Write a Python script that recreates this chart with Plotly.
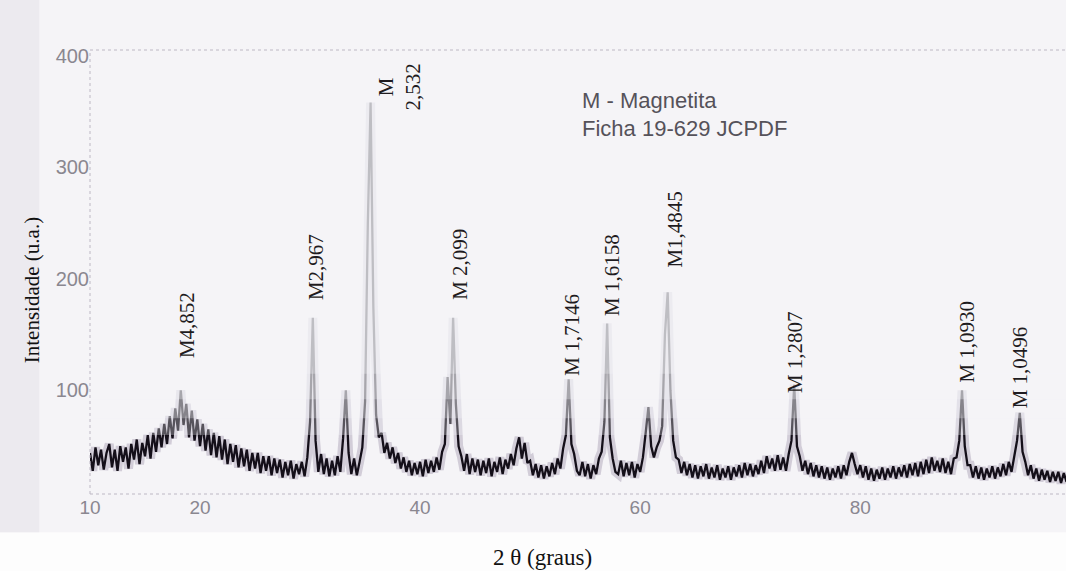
import plotly.graph_objects as go

# Difratograma de raios X (Cu K-alfa), passo de 0,25 grau a partir de 10 graus
start_2theta = 10.0
step_2theta = 0.25

intensity = [
    44, 28, 49, 33,   47, 29, 44, 52,   31, 47, 28, 50,   36, 49, 30, 52,   # 10-13
    38, 56, 34, 53,   41, 60, 39, 62,   45, 66, 49, 70,   52, 77, 57, 84,   # 14-17
    64, 100, 69, 88,  58, 82, 55, 74,   50, 70, 46, 65,   42, 62, 40, 59,   # 18-21
    38, 56, 34, 52,   36, 51, 31, 48,   32, 47, 28, 44,   30, 44, 26, 41,   # 22-25
    28, 41, 24, 39,   26, 38, 22, 36,   24, 37, 21, 34,   25, 36, 23, 40,   # 26-29
    72, 165, 55, 27,  43, 25, 39, 23,   37, 24, 41, 27,   57, 100, 44, 25,  # 30-33
    39, 24, 36, 49,   90, 250, 358, 175, 78, 58, 62, 44,  53, 39, 49, 35,   # 34-37
    44, 30, 40, 27,   37, 24, 35, 25,   36, 23, 38, 26,   37, 27, 40, 29,   # 38-41
    45, 52, 112, 70,  165, 88, 50, 41,  28, 43, 25, 39,   27, 38, 24, 37,   # 42-45
    26, 39, 23, 36,   27, 40, 25, 38,   30, 43, 33, 48,   58, 39, 53, 35,   # 46-49
    37, 24, 34, 22,   33, 21, 32, 23,   35, 25, 39, 30,   48, 60, 110, 52,  # 50-53
    43, 28, 24, 36,   23, 34, 21, 33,   25, 39, 45, 72,   160, 58, 39, 27,  # 54-57
    25, 37, 23, 35,   24, 36, 22, 34,   27, 40, 62, 85,   50, 40, 49, 55,   # 58-61
    68, 150, 188, 100, 55, 40, 38, 26,  36, 24, 34, 22,   33, 21, 32, 23,   # 62-65
    34, 21, 31, 22,   33, 20, 30, 22,   32, 20, 31, 23,   33, 22, 35, 24,   # 66-69
    34, 23, 33, 25,   37, 26, 41, 30,   39, 28, 42, 29,   40, 28, 43, 55,   # 70-73
    105, 50, 41, 28,  37, 25, 35, 23,   33, 22, 32, 21,   31, 20, 30, 22,   # 74-77
    32, 21, 33, 24,   36, 44, 34, 25,   33, 22, 32, 20,   30, 19, 29, 21,   # 78-81
    31, 20, 30, 22,   32, 21, 31, 23,   33, 22, 34, 24,   35, 23, 36, 25,   # 82-85
    38, 26, 40, 28,   37, 27, 39, 26,   36, 25, 39, 40,   55, 100, 50, 33,  # 86-89
    33, 22, 32, 21,   31, 20, 30, 22,   32, 21, 31, 23,   34, 24, 36, 27,   # 90-93
    41, 55, 80, 45,   36, 24, 33, 21,   30, 19, 29, 20,   28, 18, 27, 19,   # 94-97
    27, 17, 26, 18,                                                       # 98
]
two_theta = [round(start_2theta + step_2theta * i, 2) for i in range(len(intensity))]

# Picos indexados da magnetita (distancias interplanares d, em angstrom)
peak_2theta = [18.25, 30.25, 35.5, 43.0, 53.5, 57.0, 62.5, 74.0, 89.5, 94.5]
peak_labels = ["M4,852", "M2,967", "M<br>2,532", "M 2,099", "M 1,7146",
               "M 1,6158", "M1,4845", "M 1,2807", "M 1,0930", "M 1,0496"]
label_base = [127, 179, 349, 179, 111, 165, 208, 96, 105, 82]
label_shift = [7, 3, 28, 7, 3, 5, 7, 1, 2, 0]

x_ticks = [10, 20, 40, 60, 80]
y_ticks = [100, 200, 300, 400]

BG = "#f5f4f7"

fig = go.Figure()

# halo acinzentado ao redor do registro
fig.add_trace(go.Scatter(
    x=two_theta, y=intensity, mode="lines",
    line=dict(color="rgba(120,105,135,0.28)", width=9),
    hoverinfo="skip", showlegend=False))

# registro principal, traço escuro
fig.add_trace(go.Scatter(
    x=two_theta, y=intensity, mode="lines",
    line=dict(color="#140f19", width=2.3),
    hoverinfo="skip", showlegend=False))

annotations = []
for px, txt, yb, dx in zip(peak_2theta, peak_labels, label_base, label_shift):
    annotations.append(dict(
        x=px, y=yb, xref="x", yref="y", text=txt, textangle=-90,
        showarrow=False, xanchor="center", yanchor="bottom", xshift=dx,
        align="center",
        font=dict(family="Liberation Serif", size=21, color="#1e1b20")))

annotations += [
    dict(x=0.502, y=0.887, xref="paper", yref="paper", text="M - Magnetita",
         showarrow=False, xanchor="left", yanchor="middle",
         font=dict(family="Liberation Sans", size=22, color="#55525a")),
    dict(x=0.502, y=0.824, xref="paper", yref="paper", text="Ficha 19-629 JCPDF",
         showarrow=False, xanchor="left", yanchor="middle",
         font=dict(family="Liberation Sans", size=22, color="#55525a")),
    dict(x=-0.0594, y=0.459, xref="paper", yref="paper", text="Intensidade (u.a.)",
         textangle=-90, showarrow=False, xanchor="center", yanchor="middle",
         font=dict(family="Liberation Serif", size=21, color="#111111")),
    dict(x=0.464, y=-0.144, xref="paper", yref="paper", text="2 θ (graus)",
         showarrow=False, xanchor="center", yanchor="middle",
         font=dict(family="Liberation Serif", size=23, color="#111111")),
]

dot = dict(color="#bdb8c4", width=1, dash="dot")
shapes = [
    dict(type="rect", xref="paper", yref="paper", x0=-0.1, x1=1.0, y0=-0.2, y1=-0.086,
         fillcolor="#fdfdfd", line=dict(width=0), layer="below"),
    dict(type="rect", xref="paper", yref="paper", x0=-0.1, x1=-0.052, y0=-0.086, y1=1.15,
         fillcolor="#eceaef", line=dict(width=0), layer="below"),
]
# véu na cor do fundo que clareia o traço nas partes altas dos picos
for y_from in (60, 75, 92, 115):
    shapes.append(dict(type="rect", xref="paper", yref="y", x0=0, x1=1,
                       y0=y_from, y1=405, layer="above",
                       fillcolor="rgba(245,244,247,0.3)", line=dict(width=0)))
shapes += [
    dict(type="line", xref="paper", yref="paper", x0=0, x1=1, y0=1, y1=1, line=dot),
    dict(type="line", xref="paper", yref="paper", x0=0, x1=0, y0=0, y1=1, line=dot),
    dict(type="line", xref="paper", yref="paper", x0=0, x1=1, y0=0, y1=0, line=dot),
]

fig.update_layout(
    width=1066, height=571, autosize=False,
    margin=dict(l=90, r=0, t=50, b=77, pad=0),
    paper_bgcolor=BG, plot_bgcolor=BG,
    annotations=annotations, shapes=shapes,
    xaxis=dict(range=[10, 98.7], tickvals=x_ticks, ticktext=[str(v) for v in x_ticks],
               showgrid=False, zeroline=False, showline=False, ticks="",
               tickfont=dict(family="Liberation Sans", size=19, color="#8a8790")),
    yaxis=dict(range=[7.2, 405], tickvals=y_ticks, ticktext=[str(v) for v in y_ticks],
               showgrid=False, zeroline=False, showline=False, ticks="",
               tickfont=dict(family="Liberation Sans", size=20, color="#8a8790")),
)

fig.write_html("out.html")
